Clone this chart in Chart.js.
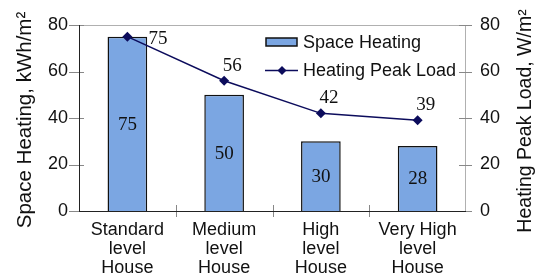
<!DOCTYPE html>
<html>
<head>
<meta charset="utf-8">
<script src="https://cdn.jsdelivr.net/npm/chart.js@4/dist/chart.umd.min.js"></script>
<style>
html,body{margin:0;padding:0;background:#fff;}
#wrap{width:539px;height:277px;position:relative;}
</style>
</head>
<body>
<div id="wrap"><canvas id="c" width="539" height="277"></canvas></div>
<script>
// ---- data ----
const categories = [['Standard','level','House'],['Medium','level','House'],['High','level','House'],['Very High','level','House']];
const spaceHeating = [75, 50, 30, 28];
const peakLoad = [75, 56, 42, 39];
const yTicks = [0, 20, 40, 60, 80];
const seriesNames = ['Space Heating', 'Heating Peak Load'];
const leftTitle = 'Space Heating, kWh/m\u00B2';
const rightTitle = 'Heating Peak Load, W/m\u00B2';

// ---- styles ----
const SANS = '"Liberation Sans", Arial, sans-serif';
const SERIF = '"Liberation Serif", "Times New Roman", serif';
const BAR_FILL = '#7ba6e2';
const BAR_BORDER = '#111111';
const LINE_COLOR = '#0c0c5c';
const lineLabelPos = ['right', 'above', 'above', 'above'];

const decor = {
  id: 'decor',
  afterDraw(chart) {
    const ctx = chart.ctx;
    const a = chart.chartArea;
    const x = chart.scales.x, y = chart.scales.y, y1 = chart.scales.y1;
    ctx.save();
    // top & right border
    ctx.strokeStyle = '#b0b0b0';
    ctx.lineWidth = 1;
    ctx.beginPath();
    ctx.moveTo(a.left, a.top + 0.5); ctx.lineTo(a.right, a.top + 0.5);
    ctx.moveTo(a.right - 0.5, a.top); ctx.lineTo(a.right - 0.5, a.bottom);
    ctx.stroke();
    // axis ticks
    ctx.strokeStyle = '#888888';
    ctx.beginPath();
    yTicks.forEach(v => {
      const py = Math.round(y.getPixelForValue(v)) + 0.5;
      ctx.moveTo(a.left - 10, py); ctx.lineTo(a.left + 5, py);
      const py1 = Math.round(y1.getPixelForValue(v)) + 0.5;
      ctx.moveTo(a.right - 7, py1); ctx.lineTo(a.right + 6, py1);
    });
    // category separators
    for (let i = 1; i < categories.length; i++) {
      const px = Math.round((x.getPixelForValue(i - 1) + x.getPixelForValue(i)) / 2) + 0.5;
      ctx.moveTo(px, a.bottom - 6); ctx.lineTo(px, a.bottom + 6);
    }
    ctx.stroke();
    // left & bottom axis lines
    ctx.strokeStyle = '#222222';
    ctx.beginPath();
    ctx.moveTo(a.left + 0.5, a.top); ctx.lineTo(a.left + 0.5, a.bottom);
    ctx.moveTo(a.left, Math.round(a.bottom) + 0.5); ctx.lineTo(a.right, Math.round(a.bottom) + 0.5);
    ctx.stroke();

    // axis titles (both read bottom-to-top)
    ctx.fillStyle = '#111';
    ctx.textAlign = 'center';
    ctx.textBaseline = 'middle';
    ctx.font = '20.5px ' + SANS;
    ctx.save(); ctx.translate(25, 120); ctx.rotate(-Math.PI / 2); ctx.fillText(leftTitle, 0, 0); ctx.restore();
    ctx.font = '19.5px ' + SANS;
    ctx.save(); ctx.translate(526, 121); ctx.rotate(-Math.PI / 2); ctx.fillText(rightTitle, 0, 0); ctx.restore();

    // bar value labels
    ctx.font = '19px ' + SERIF;
    ctx.fillStyle = '#111';
    const barMeta = chart.getDatasetMeta(1);
    barMeta.data.forEach((el, i) => {
      const midY = (el.y + el.base) / 2;
      ctx.fillText(String(spaceHeating[i]), el.x, midY + 1);
    });
    // line value labels
    const lineMeta = chart.getDatasetMeta(0);
    lineMeta.data.forEach((el, i) => {
      if (lineLabelPos[i] === 'right') {
        ctx.textAlign = 'left';
        ctx.fillText(String(peakLoad[i]), el.x + 21, el.y + 2);
      } else {
        ctx.textAlign = 'center';
        ctx.fillText(String(peakLoad[i]), el.x + 8, el.y - 15);
      }
    });

    // legend
    ctx.fillStyle = BAR_FILL;
    ctx.strokeStyle = BAR_BORDER;
    ctx.lineWidth = 1.5;
    ctx.fillRect(266, 38, 31, 8);
    ctx.strokeRect(266, 38, 31, 8);
    ctx.strokeStyle = LINE_COLOR;
    ctx.lineWidth = 1.5;
    ctx.beginPath(); ctx.moveTo(265, 70.5); ctx.lineTo(298, 70.5); ctx.stroke();
    ctx.fillStyle = LINE_COLOR;
    ctx.beginPath();
    ctx.moveTo(282, 66); ctx.lineTo(286.5, 70.5); ctx.lineTo(282, 75); ctx.lineTo(277.5, 70.5); ctx.closePath(); ctx.fill();
    ctx.fillStyle = '#111';
    ctx.font = '18px ' + SANS;
    ctx.textAlign = 'left';
    ctx.textBaseline = 'middle';
    ctx.fillText(seriesNames[0], 303, 43);
    ctx.fillText(seriesNames[1], 303, 71);
    ctx.restore();
  }
};

new Chart(document.getElementById('c'), {
  type: 'bar',
  data: {
    labels: categories,
    datasets: [
      {
        type: 'line',
        label: seriesNames[1],
        data: peakLoad,
        yAxisID: 'y1',
        borderColor: LINE_COLOR,
        backgroundColor: LINE_COLOR,
        borderWidth: 1.5,
        pointStyle: 'rectRot',
        pointRadius: 5,
        pointBackgroundColor: LINE_COLOR,
        pointBorderWidth: 0,
        tension: 0,
        order: 0
      },
      {
        type: 'bar',
        label: seriesNames[0],
        data: spaceHeating,
        yAxisID: 'y',
        backgroundColor: BAR_FILL,
        borderColor: BAR_BORDER,
        borderWidth: 1.5,
        categoryPercentage: 1,
        barPercentage: 0.41,
        order: 1
      }
    ]
  },
  options: {
    responsive: false,
    animation: false,
    devicePixelRatio: 1,
    layout: { padding: { top: 25, left: 0, right: 0, bottom: 0 } },
    plugins: { legend: { display: false }, tooltip: { enabled: false } },
    scales: {
      x: {
        grid: { display: false, drawTicks: false, tickLength: 0 },
        border: { display: false },
        ticks: { color: '#111', font: { family: SANS, size: 18, lineHeight: 1.05 }, padding: 10, maxRotation: 0, autoSkip: false },
        afterFit(s) { s.height = 66; }
      },
      y: {
        position: 'left',
        min: 0, max: 80,
        grid: { display: false, drawTicks: false, tickLength: 0 },
        border: { display: false },
        ticks: { stepSize: 20, color: '#111', font: { family: SANS, size: 18 }, padding: 11 },
        afterFit(s) { s.width = 79; }
      },
      y1: {
        position: 'right',
        min: 0, max: 80,
        grid: { display: false, drawTicks: false, tickLength: 0 },
        border: { display: false },
        ticks: { stepSize: 20, color: '#111', font: { family: SANS, size: 18 }, padding: 14 },
        afterFit(s) { s.width = 73; }
      }
    }
  },
  plugins: [decor]
});
</script>
</body>
</html>
